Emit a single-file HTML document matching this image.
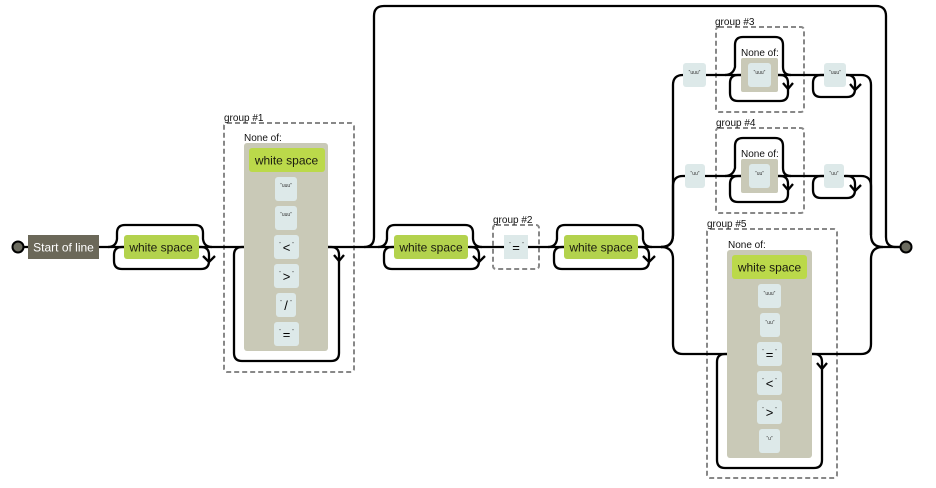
<!DOCTYPE html>
<html><head><meta charset="utf-8"><style>
html,body{margin:0;padding:0;background:#fff;width:936px;height:488px;overflow:hidden}
svg{display:block}
text{font-family:"Liberation Sans",Arial,sans-serif}
.l{fill:none;stroke:#000;stroke-width:2.3}
.d{fill:none;stroke:#888;stroke-width:2;stroke-dasharray:5 3}
.g{fill:#c9c9b7}
.w{fill:#b3d24d}
.w2{fill:#bbd94a}
.c{fill:#dde9e9}
.t{font-size:12px;fill:#1a1a10;text-anchor:middle}
.n{font-size:10px;fill:#111}
.q{font-size:5px;fill:#333;text-anchor:middle}
.b{font-size:13px;fill:#000;text-anchor:middle}
</style></head><body>
<svg width="936" height="488" viewBox="0 0 936 488" xmlns="http://www.w3.org/2000/svg">
<!-- dashed groups -->
<rect class="d" x="224" y="123" width="130" height="249" rx="3"/>
<rect class="d" x="493" y="225" width="46" height="44" rx="3"/>
<rect class="d" x="716" y="27" width="88" height="85" rx="3"/>
<rect class="d" x="716" y="128" width="88" height="85" rx="3"/>
<rect class="d" x="707" y="229" width="130" height="249" rx="3"/>

<!-- main lines -->
<path class="l" d="M23,247 H124 M199,247 H394 M468,247 H564 M638,247 H662 M886,247 H901"/>
<path class="l" d="M364,247 q10,0 10,-10 V16 q0,-10 10,-10 H876 q10,0 10,10 V237 q0,10 10,10 H901"/>

<!-- loops for white space 1,2,3 -->
<path class="l" d="M108,247 q8,0 9,-8 v-6 q0,-8 8,-8 H195 q8,0 8,8 v6 q1,8 9,8"/>
<path class="l" d="M124,247 h-2 q-8,0 -8,8 v6 q0,8 8,8 H201 q8,0 8,-8 v-6 q0,-8 -8,-8 h-2"/>
<path class="l" d="M203,256 L209,262 L215,256"/>
<path class="l" d="M378,247 q8,0 9,-8 v-6 q0,-8 8,-8 H465 q8,0 8,8 v6 q1,8 9,8"/>
<path class="l" d="M394,247 h-2 q-8,0 -8,8 v6 q0,8 8,8 H471 q8,0 8,-8 v-6 q0,-8 -8,-8 h-2"/>
<path class="l" d="M473,256 L479,262 L485,256"/>
<path class="l" d="M548,247 q8,0 9,-8 v-6 q0,-8 8,-8 H635 q8,0 8,8 v6 q1,8 9,8"/>
<path class="l" d="M564,247 h-2 q-8,0 -8,8 v6 q0,8 8,8 H641 q8,0 8,-8 v-6 q0,-8 -8,-8 h-2"/>
<path class="l" d="M643,256 L649,262 L655,256"/>

<!-- group 1 loop -->
<path class="l" d="M244,247 h-2 q-8,0 -8,8 V353 q0,8 8,8 H331 q8,0 8,-8 V255 q0,-8 -8,-8 h-3"/>
<path class="l" d="M334,255 L339,261 L344,255"/>

<!-- alternatives left/right rails -->
<path class="l" d="M661,247 q12,0 12,-12 V85 q0,-10 10,-10 H741"/>
<path class="l" d="M661,247 q12,0 12,-12 V186 q0,-10 10,-10 H741"/>
<path class="l" d="M661,247 q12,0 12,12 V344 q0,10 10,10 H727"/>
<path class="l" d="M778,75 H861 q10,0 10,10 V235 q0,12 12,12 H886"/>
<path class="l" d="M778,176 H861 q10,0 10,10 V235"/>
<path class="l" d="M812,354 H861 q10,0 10,-10 V259 q0,-12 12,-12"/>

<!-- group 3 -->
<path class="l" d="M725,75 q8,0 10,-8 V45 q0,-8 8,-8 H775 q8,0 8,8 V67 q0,8 8,8"/>
<path class="l" d="M741,75 h-3 q-8,0 -8,8 v10 q0,8 8,8 H780 q8,0 8,-8 V83 q0,-8 -8,-8 h-2"/>
<path class="l" d="M783,83 L788,89 L793,83"/>
<path class="l" d="M824,75 h-3 q-8,0 -8,8 v6 q0,8 8,8 H847 q8,0 8,-8 v-6 q0,-8 -8,-8 h-2"/>
<path class="l" d="M850,84 L855,90 L861,84"/>
<!-- group 4 -->
<path class="l" d="M725,176 q8,0 10,-8 V146 q0,-8 8,-8 H775 q8,0 8,8 V168 q0,8 8,8"/>
<path class="l" d="M741,176 h-3 q-8,0 -8,8 v10 q0,8 8,8 H780 q8,0 8,-8 V184 q0,-8 -8,-8 h-2"/>
<path class="l" d="M783,184 L788,190 L793,184"/>
<path class="l" d="M824,176 h-3 q-8,0 -8,8 v6 q0,8 8,8 H847 q8,0 8,-8 v-6 q0,-8 -8,-8 h-2"/>
<path class="l" d="M850,185 L855,191 L861,185"/>
<!-- group 5 loop -->
<path class="l" d="M727,354 h-2 q-8,0 -8,8 V460 q0,8 8,8 H814 q8,0 8,-8 V362 q0,-8 -8,-8 h-2"/>
<path class="l" d="M817,363 L822,369 L827,363"/>

<!-- endpoints -->
<circle cx="18" cy="247" r="5.5" fill="#6b6b5f" stroke="#000" stroke-width="2"/>
<circle cx="906" cy="247" r="5.5" fill="#6b6b5f" stroke="#000" stroke-width="2"/>

<!-- Start -->
<rect x="28" y="235" width="71" height="24" fill="#6b6859"/>
<text x="63.5" y="251.5" font-size="12" fill="#fff" text-anchor="middle">Start of line</text>

<!-- white spaces -->
<rect class="w" x="124" y="235" width="75" height="24" rx="3"/>
<text class="t" x="161" y="251.5">white space</text>
<rect class="w" x="394" y="235" width="74" height="24" rx="3"/>
<text class="t" x="431" y="251.5">white space</text>
<rect class="w" x="564" y="235" width="74" height="24" rx="3"/>
<text class="t" x="601" y="251.5">white space</text>

<!-- group 1 -->
<text class="n" x="224" y="121">group #1</text>
<text class="n" x="244" y="141">None of:</text>
<rect class="g" x="244" y="143" width="84" height="208" rx="3"/>
<rect class="w2" x="249" y="148" width="76" height="24" rx="3"/>
<text class="t" x="286.5" y="164.5">white space</text>
<rect class="c" x="275" y="177" width="22" height="24" rx="3"/><text class="q" x="286" y="187">“uuu”</text>
<rect class="c" x="275" y="206" width="22" height="24" rx="3"/><text class="q" x="286" y="216">“uuu”</text>
<rect class="c" x="274" y="235" width="25" height="24" rx="3"/><text class="q" x="280" y="246">“</text><text class="b" x="286.5" y="252">&lt;</text><text class="q" x="293" y="246">”</text>
<rect class="c" x="274" y="264" width="25" height="24" rx="3"/><text class="q" x="280" y="275">“</text><text class="b" x="286.5" y="281">&gt;</text><text class="q" x="293" y="275">”</text>
<rect class="c" x="276" y="293" width="20" height="24" rx="3"/><text class="q" x="281" y="304">“</text><text class="b" x="286" y="310">/</text><text class="q" x="291" y="304">”</text>
<rect class="c" x="274" y="322" width="25" height="24" rx="3"/><text class="q" x="280" y="333">“</text><text class="b" x="286.5" y="339">=</text><text class="q" x="293" y="333">”</text>

<!-- group 2 -->
<text class="n" x="493" y="223">group #2</text>
<rect class="c" x="504" y="235" width="24" height="24"/>
<text class="q" x="510" y="246">“</text><text class="b" x="516" y="252">=</text><text class="q" x="523" y="246">”</text>

<!-- group 3 -->
<text class="n" x="715" y="25">group #3</text>
<text class="n" x="741" y="56">None of:</text>
<rect class="c" x="683" y="63" width="23" height="24" rx="3"/><text class="q" x="694.5" y="74">“uuu”</text>
<rect class="g" x="741" y="58" width="37" height="34" rx="2"/>
<rect class="c" x="748" y="63" width="23" height="24" rx="3"/><text class="q" x="759.5" y="74">“uuu”</text>
<rect class="c" x="824" y="63" width="22" height="24" rx="3"/><text class="q" x="835" y="74">“uuu”</text>

<!-- group 4 -->
<text class="n" x="716" y="126">group #4</text>
<text class="n" x="741" y="157">None of:</text>
<rect class="c" x="685" y="164" width="20" height="24" rx="3"/><text class="q" x="695" y="175">“uu”</text>
<rect class="g" x="741" y="159" width="37" height="34" rx="2"/>
<rect class="c" x="749" y="164" width="21" height="24" rx="3"/><text class="q" x="759.5" y="175">“uu”</text>
<rect class="c" x="824" y="164" width="20" height="24" rx="3"/><text class="q" x="834" y="175">“uu”</text>

<!-- group 5 -->
<text class="n" x="707" y="227">group #5</text>
<text class="n" x="728" y="248">None of:</text>
<rect class="g" x="727" y="250" width="85" height="208" rx="3"/>
<rect class="w2" x="732" y="255" width="75" height="24" rx="3"/>
<text class="t" x="769.5" y="271.5">white space</text>
<rect class="c" x="758" y="284" width="23" height="24" rx="3"/><text class="q" x="769.5" y="295">“uuu”</text>
<rect class="c" x="760" y="313" width="20" height="24" rx="3"/><text class="q" x="770" y="324">“uu”</text>
<rect class="c" x="757" y="342" width="25" height="24" rx="3"/><text class="q" x="763" y="353">“</text><text class="b" x="769.5" y="359">=</text><text class="q" x="776" y="353">”</text>
<rect class="c" x="757" y="371" width="25" height="24" rx="3"/><text class="q" x="763" y="382">“</text><text class="b" x="769.5" y="388">&lt;</text><text class="q" x="776" y="382">”</text>
<rect class="c" x="757" y="400" width="25" height="24" rx="3"/><text class="q" x="763" y="411">“</text><text class="b" x="769.5" y="417">&gt;</text><text class="q" x="776" y="411">”</text>
<rect class="c" x="759" y="429" width="21" height="24" rx="3"/><text class="q" x="769.5" y="440">“u”</text>
</svg>
</body></html>
